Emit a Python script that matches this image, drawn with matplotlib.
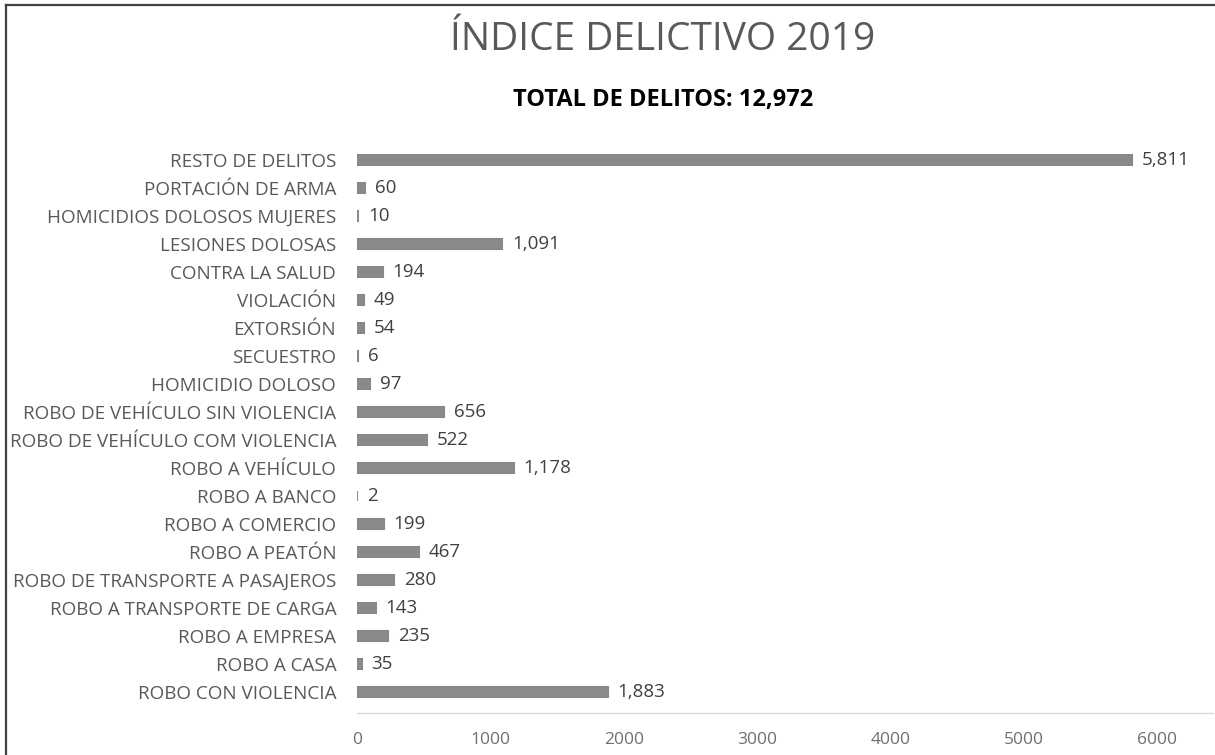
import matplotlib
matplotlib.use("Agg")
import matplotlib.pyplot as plt
from matplotlib.lines import Line2D

categories = [
    "ROBO CON VIOLENCIA",
    "ROBO A CASA",
    "ROBO A EMPRESA",
    "ROBO A TRANSPORTE DE CARGA",
    "ROBO DE TRANSPORTE A PASAJEROS",
    "ROBO A PEATÓN",
    "ROBO A COMERCIO",
    "ROBO A BANCO",
    "ROBO A VEHÍCULO",
    "ROBO DE VEHÍCULO COM VIOLENCIA",
    "ROBO DE VEHÍCULO SIN VIOLENCIA",
    "HOMICIDIO DOLOSO",
    "SECUESTRO",
    "EXTORSIÓN",
    "VIOLACIÓN",
    "CONTRA LA SALUD",
    "LESIONES DOLOSAS",
    "HOMICIDIOS DOLOSOS MUJERES",
    "PORTACIÓN DE ARMA",
    "RESTO DE DELITOS",
]
values = [1883, 35, 235, 143, 280, 467, 199, 2, 1178, 522, 656, 97, 6, 54, 49, 194, 1091, 10, 60, 5811]
x_ticks = [0, 1000, 2000, 3000, 4000, 5000, 6000]
title = "ÍNDICE DELICTIVO 2019"
subtitle = "TOTAL DE DELITOS: 12,972"

FONT = ["Open Sans", "DejaVu Sans"]
plt.rcParams["font.family"] = FONT

W, H = 1215, 755
fig = plt.figure(figsize=(W / 100, H / 100), dpi=100)
fig.patch.set_facecolor("white")

ax_left, ax_right = 357, 1213
ax_top, ax_bottom = 146, 713
ax = fig.add_axes([ax_left / W, 1 - ax_bottom / H, (ax_right - ax_left) / W, (ax_bottom - ax_top) / H])

bar_color = "#898989"
ypos = list(range(len(categories)))
ax.barh(ypos, values, height=0.33, color=bar_color, edgecolor=bar_color, linewidth=1.5)

ax.set_xlim(0, 6420)
ax.set_ylim(-0.75, len(categories) - 0.5)

for y, v in zip(ypos, values):
    ax.annotate(f"{v:,}", xy=(v, y), xytext=(7, 0), textcoords="offset points",
                va="center", ha="left", fontsize=13.5, color="#404040")

ax.set_yticks(ypos)
ax.set_yticklabels(categories, fontsize=13.6, color="#595959")
ax.set_xticks(x_ticks)
ax.set_xticklabels([str(t) for t in x_ticks], fontsize=12.5, color="#6f6f6f")
ax.tick_params(axis="both", length=0)
ax.tick_params(axis="y", pad=15)
ax.tick_params(axis="x", pad=14)

for s in ["top", "right", "left"]:
    ax.spines[s].set_visible(False)
ax.spines["bottom"].set_color("#d9d9d9")
ax.spines["bottom"].set_linewidth(1.0)

fig.text(663 / W, 1 - 40 / H, title, ha="center", va="center", fontsize=28, color="#595959")
fig.text(663 / W, 1 - 100 / H, subtitle, ha="center", va="center", fontsize=17,
         fontweight="bold", color="black")

# outer frame (left and top edges)
fig.add_artist(Line2D([5.5 / W, 5.5 / W], [0, 1 - 4.5 / H], transform=fig.transFigure,
                      color="#404040", linewidth=1.6))
fig.add_artist(Line2D([5.5 / W, 1], [1 - 4.5 / H, 1 - 4.5 / H], transform=fig.transFigure,
                      color="#404040", linewidth=1.6))

fig.savefig("out.png", dpi=100)
